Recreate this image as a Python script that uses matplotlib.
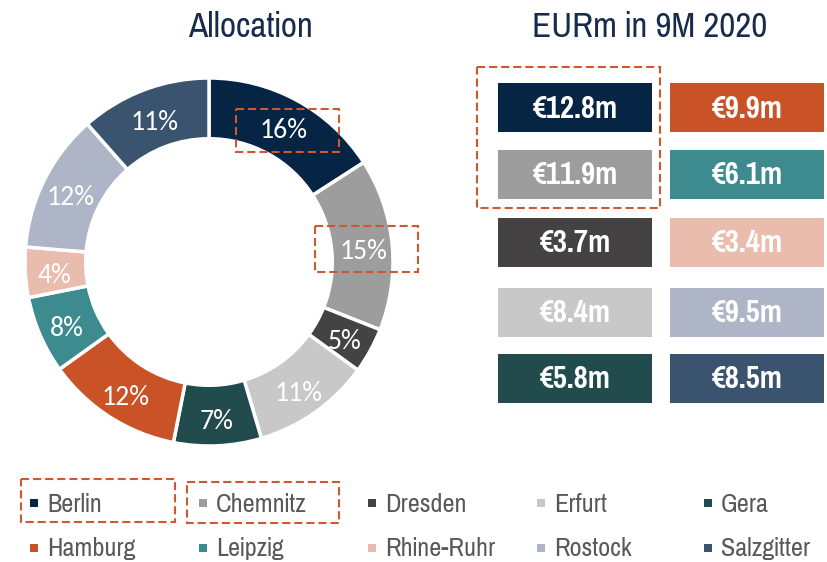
import numpy as np
import matplotlib.pyplot as plt
from matplotlib.patches import Rectangle

# data
cities = ['Berlin', 'Chemnitz', 'Dresden', 'Erfurt', 'Gera',
          'Hamburg', 'Leipzig', 'Rhine-Ruhr', 'Rostock', 'Salzgitter']
# slice sizes as drawn (estimated from the ring, in %)
slice_share = [15.9, 15.1, 4.0, 10.4, 7.7, 12.0, 6.8, 4.4, 12.2, 11.5]
pct_labels = ['16%', '15%', '5%', '11%', '7%', '12%', '8%', '4%', '12%', '11%']
box_labels = ['€12.8m', '€11.9m', '€3.7m', '€8.4m', '€5.8m',
              '€9.9m', '€6.1m', '€3.4m', '€9.5m', '€8.5m']
colors = ['#062443', '#9D9D9D', '#444243', '#C8C8C8', '#224B4E',
          '#C95227', '#3D8B8F', '#E9BCAD', '#AEB5C6', '#3A546F']

W, H = 827, 562
narrow = ['Pragati Narrow', 'Archivo Narrow', 'Liberation Sans', 'DejaVu Sans']
title_col = '#172B4D'
dash_col = '#D0582E'
dash_ls = (0, (3.9, 1.9))

fig = plt.figure(figsize=(W / 100, H / 100), dpi=100)

# donut, centre (209, 262) px, radius 184 px
cx, cy, r = 209, 262, 184
ax = fig.add_axes([(cx - r) / W, 1 - (cy + r) / H, 2 * r / W, 2 * r / H])
wedges, _ = ax.pie(slice_share, colors=colors, startangle=90, counterclock=False,
                   radius=1, wedgeprops=dict(width=0.33, edgecolor='white', linewidth=2.5))
for w, lab in zip(wedges, pct_labels):
    ang = np.deg2rad((w.theta1 + w.theta2) / 2)
    ax.text(0.842 * np.cos(ang), 0.842 * np.sin(ang) - 0.027, lab, ha='center', va='center',
            color='white', fontsize=20, family=['Carlito', 'Lato', 'DejaVu Sans'])
ax.set_xlim(-1, 1)
ax.set_ylim(-1, 1)
ax.axis('off')

# overlay in pixel coordinates
ov = fig.add_axes([0, 0, 1, 1])
ov.set_xlim(0, W)
ov.set_ylim(H, 0)
ov.axis('off')

ov.text(250, 27, 'Allocation', ha='center', va='center', fontsize=27.5,
        color=title_col, family=narrow)
ov.text(650, 27, 'EURm in 9M 2020', ha='center', va='center', fontsize=27.5,
        color=title_col, family=narrow)

# value boxes, two columns of five
col_x = [498, 670]
row_y = [83, 150, 218, 288, 354]
bw, bh = 154, 49
for i, (lab, c) in enumerate(zip(box_labels, colors)):
    x0 = col_x[i // 5]
    y0 = row_y[i % 5]
    ov.add_patch(Rectangle((x0, y0), bw, bh, facecolor=c, edgecolor='none'))
    ov.text(x0 + bw / 2, y0 + bh / 2 + 1, lab, ha='center', va='center',
            fontsize=24, fontweight='bold', color='white', family=narrow)

# legend, two rows of five
leg_x = [34, 203, 372, 541, 708]
leg_y = [503, 548]
for i, (name, c) in enumerate(zip(cities, colors)):
    mx = leg_x[i % 5]
    my = leg_y[i // 5]
    ov.add_patch(Rectangle((mx - 4, my - 4), 8, 8, facecolor=c, edgecolor='none'))
    ov.text(mx + 13, my + 1, name, ha='left', va='center', fontsize=20.5,
            color='#595959', family=narrow)

# dashed highlight boxes
for (x0, y0, x1, y1) in [(477, 67, 660, 208), (236, 109, 339, 152), (315, 226, 418, 272),
                         (21, 479, 175, 522), (187, 482, 339, 523)]:
    ov.add_patch(Rectangle((x0, y0), x1 - x0, y1 - y0, fill=False, edgecolor=dash_col,
                           linewidth=1.5, linestyle=dash_ls))

fig.savefig('out.png', dpi=100)
